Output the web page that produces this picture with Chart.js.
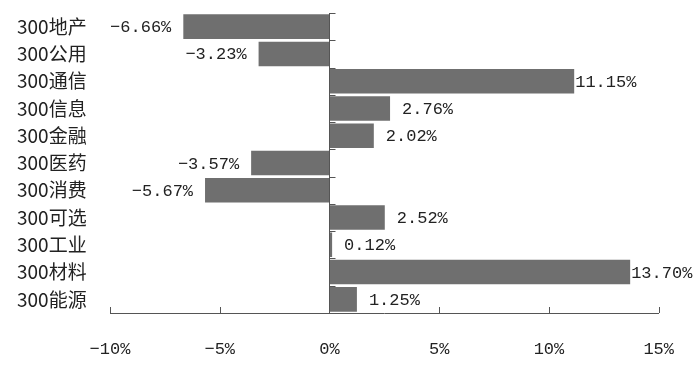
<!DOCTYPE html>
<html>
<head>
<meta charset="utf-8">
<script src="https://cdn.jsdelivr.net/npm/chart.js@4"></script>
<style>
  html, body { margin: 0; padding: 0; background: #fff; }
</style>
</head>
<body>
<canvas id="chart" width="700" height="365"></canvas>
<script>
// 数据
const categories = ['300地产', '300公用', '300通信', '300信息', '300金融', '300医药', '300消费', '300可选', '300工业', '300材料', '300能源'];
const values = [-6.66, -3.23, 11.15, 2.76, 2.02, -3.57, -5.67, 2.52, 0.12, 13.70, 1.25];
const xTicks = [-10, -5, 0, 5, 10, 15];

const numFont = '17px "Liberation Mono", monospace';
const axisColor = '#555';

// 零轴、刻度线
const axisMarks = {
    id: 'axisMarks',
    afterDraw(chart) {
        const ctx = chart.ctx;
        const xs = chart.scales.x, ys = chart.scales.y;
        const area = chart.chartArea;
        const x0 = Math.round(xs.getPixelForValue(0)) + 0.5;
        ctx.save();
        ctx.strokeStyle = axisColor;
        ctx.lineWidth = 1;
        ctx.beginPath();
        ctx.moveTo(x0, area.top);
        ctx.lineTo(x0, area.bottom);
        for (let i = 0; i <= categories.length; i++) {
            const yy = Math.round(ys.getPixelForValue(i - 0.5)) + 0.5;
            ctx.moveTo(x0, yy);
            ctx.lineTo(x0 + 6, yy);
        }
        xTicks.forEach(v => {
            const px = Math.round(xs.getPixelForValue(v)) + 0.5;
            ctx.moveTo(px, area.bottom);
            ctx.lineTo(px, area.bottom - 6);
        });
        ctx.stroke();
        ctx.restore();
    }
};

// 数据标签
const barLabels = {
    id: 'barLabels',
    afterDatasetsDraw(chart) {
        const ctx = chart.ctx;
        const meta = chart.getDatasetMeta(0);
        ctx.save();
        ctx.font = numFont;
        ctx.fillStyle = '#222';
        ctx.textBaseline = 'middle';
        meta.data.forEach((bar, i) => {
            const v = values[i];
            const text = (v < 0 ? '−' : '') + Math.abs(v).toFixed(2) + '%';
            if (v < 0) {
                ctx.textAlign = 'right';
                ctx.fillText(text, bar.x - 12, bar.y + 1);
            } else {
                ctx.textAlign = 'left';
                ctx.fillText(text, bar.x + (v > 10 ? 1 : 12), bar.y + 1);
            }
        });
        ctx.restore();
    }
};

new Chart(document.getElementById('chart'), {
    type: 'bar',
    data: {
        labels: categories,
        datasets: [{
            data: values,
            backgroundColor: '#6f6f6f',
            borderWidth: 0,
            barPercentage: 0.9,
            categoryPercentage: 1
        }]
    },
    options: {
        indexAxis: 'y',
        responsive: false,
        animation: false,
        layout: { padding: { left: 17, right: 40, top: 13, bottom: 0 } },
        plugins: {
            legend: { display: false },
            tooltip: { enabled: false }
        },
        scales: {
            x: {
                min: -10,
                max: 15,
                afterBuildTicks: s => { s.ticks = xTicks.map(v => ({ value: v })); },
                afterFit: s => { s.height = 52; },
                grid: { display: false, drawTicks: false },
                border: { display: true, color: axisColor },
                ticks: {
                    padding: 26,
                    color: '#222',
                    font: { family: '"Liberation Mono", monospace', size: 17 },
                    callback: v => (v < 0 ? '−' + Math.abs(v) : v) + '%'
                }
            },
            y: {
                afterFit: s => { s.width = 93; },
                grid: { display: false, drawTicks: false },
                border: { display: false },
                ticks: {
                    crossAlign: 'far',
                    padding: 0,
                    color: '#222',
                    font: { family: '"Noto Sans CJK SC", sans-serif', size: 19 }
                }
            }
        }
    },
    plugins: [axisMarks, barLabels]
});
</script>
</body>
</html>
